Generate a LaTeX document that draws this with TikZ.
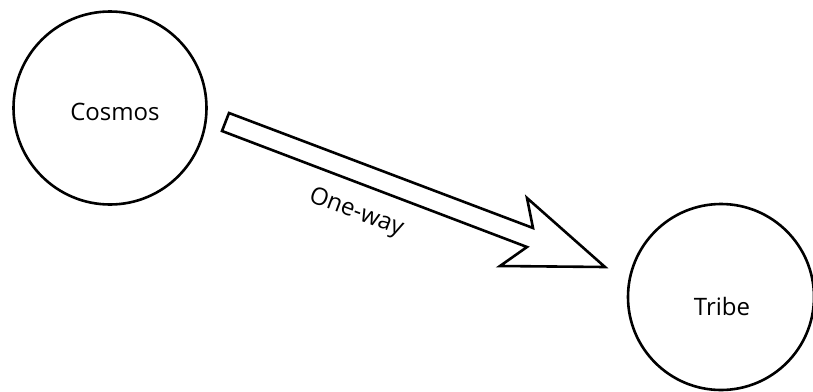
\documentclass[tikz,border=0pt]{standalone}
\usepackage{fontspec}
\setmainfont{Open Sans}
\begin{document}
\begin{tikzpicture}[x=1pt, y=-1pt, line width=2.6pt,
  planet/.style={draw, circle, inner sep=0pt},
  caption/.style={font=\fontsize{24}{28}\selectfont}]
  \useasboundingbox (0,0) rectangle (813,391);
  % the two circles
  \node[planet, minimum size=193pt] (cosmos) at (110,108) {};
  \node[planet, minimum size=186pt] (tribe) at (721,297) {};
  \node[caption] (cosmoslbl) at (115,112) {Cosmos};
  \node[caption] (tribelbl) at (722,306) {Tribe};
  % hollow block arrow between them
  \coordinate (tailtop) at (229,113);
  \coordinate (tailbot) at (222,131);
  \coordinate (tip) at (605,267);
  \draw[line join=miter] (tailtop) -- (533,228) -- (527,198) -- (tip)
    -- (500,266) -- (527,247) -- (tailbot) -- cycle;
  \node[caption, rotate=-20.7] (oneway) at (356,213) {One-way};
\end{tikzpicture}
\end{document}
